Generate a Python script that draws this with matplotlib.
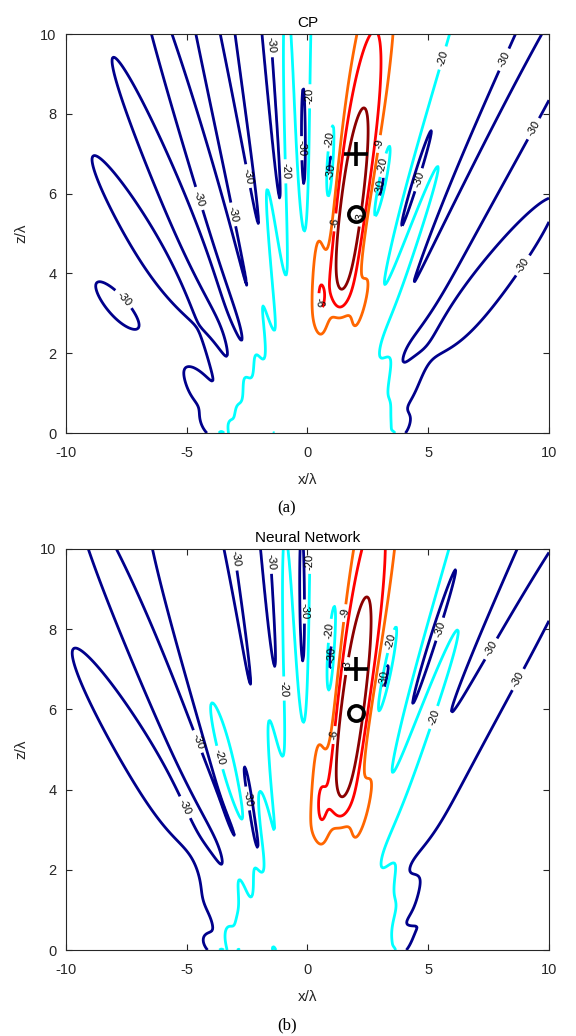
import numpy as np
import matplotlib
matplotlib.use('Agg')
import matplotlib.pyplot as plt

plt.rcParams['font.family'] = ['Liberation Sans', 'DejaVu Sans']
plt.rcParams['axes.unicode_minus'] = False

# contour levels (dB) and their colours
levels = [-30, -20, -9, -6, -3]
level_colors = ['#00008B', '#00FFFF', '#FF6600', '#FF0000', '#8B0000']

# planar source aperture (in wavelengths)
elem_x = [-3.5, -3.0, -2.5, -2.0, -1.5, -1.0, -0.5, 0.0, 0.5, 1.0, 1.5, 2.0, 2.5, 3.0, 3.5]
elem_y = [-3.0, -2.5, -2.0, -1.5, -1.0, -0.5, 0.0, 0.5, 1.0, 1.5, 2.0, 2.5, 3.0]
elem_z = -0.25

# steering point and per-column phase errors (deg) of each method
cp_steer = (1.95, 6.3)
nn_steer = (2.0, 6.7)
cp_phase_err = [0, 0, 0, 0, 0, 0, 0, 0, 0, 0, 0, 0, 0, 0, 0]
nn_phase_err = [12, -6, 6, 3, -8, 6, 0, -3, 6, -6, 3, 6, -6, 6, 15]

# marked points: target focus (+) and obtained peak (o)
target_pt = (2.0, 7.0)
cp_peak = (2.0, 5.5)
nn_peak = (2.0, 5.9)

x = np.linspace(-10, 10, 501)
z = np.linspace(0, 10, 251)
X, Z = np.meshgrid(x, z)
k = 2 * np.pi


def field_db(steer, phase_err):
    E = np.zeros_like(X, dtype=complex)
    for xn, pe in zip(elem_x, phase_err):
        for yn in elem_y:
            r = np.sqrt((X - xn) ** 2 + yn ** 2 + (Z - elem_z) ** 2)
            rf = np.sqrt((steer[0] - xn) ** 2 + yn ** 2 + (steer[1] - elem_z) ** 2)
            cos_t = (Z - elem_z) / r
            E += cos_t * np.exp(-1j * (k * (r - rf) + np.deg2rad(pe))) / r
    A = np.abs(E)
    ref = A[z > 1, :].max()
    return 20 * np.log10(A / ref)


panels = [
    ('CP', cp_steer, cp_phase_err, cp_peak, '(a)'),
    ('Neural Network', nn_steer, nn_phase_err, nn_peak, '(b)'),
]
positions = [[0.1146, 0.5820, 0.8385, 0.3851], [0.1146, 0.0830, 0.8385, 0.3871]]
caption_y = [0.5097, 0.0106]

fig = plt.figure(figsize=(5.76, 10.36), dpi=100)
for (title, steer, perr, peak, cap), pos, cy in zip(panels, positions, caption_y):
    ax = fig.add_axes(pos)
    D = field_db(steer, perr)
    cs = ax.contour(X, Z, D, levels=levels, colors=level_colors, linewidths=2)
    ax.clabel(cs, fmt='%d', fontsize=8, inline=True, inline_spacing=4, colors='k')
    ax.plot(*target_pt, marker='+', color='k', markersize=17, mew=2.6)
    ax.plot(*peak, marker='o', color='k', mfc='none', markersize=11, mew=2.6)
    ax.set_xlim(-10, 10)
    ax.set_ylim(0, 10)
    ax.set_xticks([-10, -5, 0, 5, 10])
    ax.set_yticks([0, 2, 4, 6, 8, 10])
    ax.tick_params(direction='in', top=True, right=True, labelsize=10.5,
                   colors='#262626', length=4)
    ax.tick_params(axis='x', pad=9)
    ax.tick_params(axis='y', pad=7)
    for s in ax.spines.values():
        s.set_color('#262626')
    ax.set_xlabel('x/\u03bb', fontsize=11, color='#262626', labelpad=10)
    ax.set_ylabel('z/\u03bb', fontsize=11, color='#262626', labelpad=8)
    ax.set_title(title, fontsize=11, pad=5)
    fig.text(0.498, cy, cap, ha='center', va='center', fontsize=12,
             family='Liberation Serif')

fig.savefig('out.png', dpi=100)
